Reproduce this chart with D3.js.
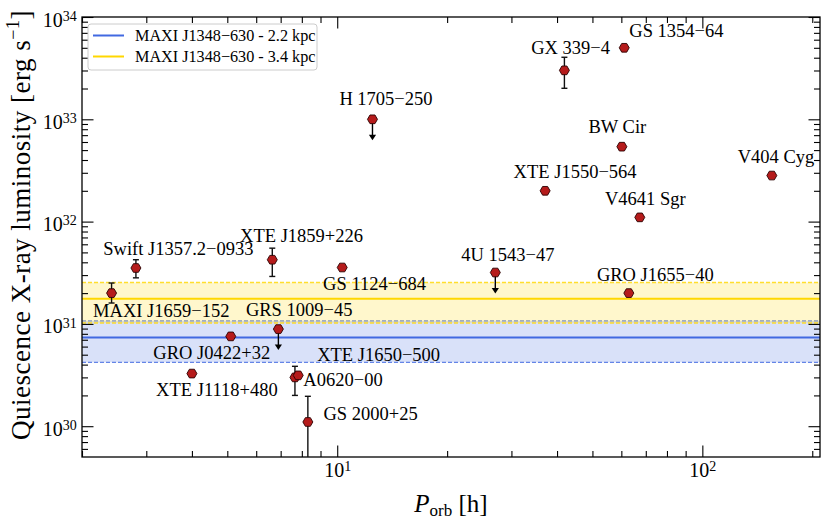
<!DOCTYPE html>
<html>
<head>
<meta charset="utf-8">
<script src="https://cdn.jsdelivr.net/npm/d3@7"></script>
<style>
    body { margin: 0; background: #ffffff; }
    svg { font-family: "Liberation Serif", "DejaVu Serif", serif; }
</style>
</head>
<body>
<div id="chart"></div>
<script>
// quiescent black hole X-ray binaries
const names = [
    'Swift J1357.2\u22120933', 'MAXI J1659\u2212152', 'XTE J1859+226', 'GS 1124\u2212684',
    'GRS 1009\u221245', 'GRO J0422+32', 'XTE J1118+480', 'XTE J1650\u2212500',
    'A0620\u221200', 'GS 2000+25', 'H 1705\u2212250', '4U 1543\u221247',
    'GRO J1655\u221240', 'XTE J1550\u2212564', 'V4641 Sgr', 'BW Cir',
    'V404 Cyg', 'GX 339\u22124', 'GS 1354\u221264'
];
const period = [2.81, 2.41, 6.64, 10.32, 6.90, 5.11, 4.00, 7.66, 7.82, 8.31,
    12.49, 27.1, 62.9, 37.1, 67.4, 60.2, 155, 41.9, 61.1];
const lum = [3.52e31, 2.0e31, 4.24e31, 3.56e31, 8.9e30, 7.55e30, 3.27e30, 3.0e30, 3.14e30, 1.1e30,
    1.0e33, 3.18e31, 2.0e31, 2.0e32, 1.1e32, 5.4e32, 2.82e32, 3.01e33, 5.0e33];
const lumLow = [2.82e31, 1.6e31, 2.91e31, null, null, null, null, 2.0e30, null, 2e29,
    null, null, null, null, null, null, null, 2.01e33, null];
const lumHigh = [4.24e31, 2.51e31, 5.5e31, null, null, null, null, 3.85e30, null, 1.96e30,
    null, null, null, null, null, null, null, 4.04e33, null];
const upperLimit = [false, false, false, false, true, false, false, false, false, false,
    true, true, false, false, false, false, false, false, false];

// MAXI J1348-630 quiescent luminosity for two distances
const bandNames = ['MAXI J1348\u2212630 - 2.2 kpc', 'MAXI J1348\u2212630 - 3.4 kpc'];
const bandMid = [7.38e30, 1.76e31];
const bandLow = [4.21e30, 1.02e31];
const bandHigh = [1.07e31, 2.54e31];
const bandColors = ['royalblue', 'gold'];

const xTicks = [10, 100];
const yTicks = [1e30, 1e31, 1e32, 1e33, 1e34];

// label placement, pixel offset of label centre/baseline from its point
const labelDx = [42.5, 49.7, 29.3, 32.3, 20.8, -19, 25, 83.7, 44.8, 62.7,
    13.5, 12.5, 26.5, 30, 5.5, -4.5, 4.2, 6.2, 52.2];
const labelDy = [-13.3, 23.4, -18, 22.3, -12.6, 22.3, 22, -16, 11, -1.6,
    -14, -11.7, -12.6, -13, -12.3, -13.7, -12.7, -16.3, -10.7];

const fmt = {
    width: 830,
    height: 521,
    margins: { left: 82, right: 10, top: 17, bottom: 64 },
    xrange: [2, 210],
    yrange: [5e29, 1e34],
    majorTick: 11.5,
    minorTick: 6,
    limitDex: 0.205
};

function minorTicks(lo, hi) {
    let out = [];
    for (let e = Math.floor(Math.log10(lo)); e <= Math.ceil(Math.log10(hi)); e++) {
        for (let m = 2; m <= 9; m++) {
            let v = m * Math.pow(10, e);
            if (v >= lo && v <= hi) out.push(v);
        }
    }
    return out;
}

function hexagon(r) {
    let pts = d3.range(6).map((k) => {
        let a = k * Math.PI / 3;
        return [r * Math.cos(a), r * Math.sin(a)];
    });
    return 'M' + pts.map((p) => p.join(',')).join('L') + 'Z';
}

function powerLabel(sel) {
    sel.each(function(d) {
        let t = d3.select(this).text('10');
        t.append('tspan')
            .attr('dy', '-0.42em')
            .attr('font-size', '14px')
            .text(Math.round(Math.log10(d)));
    });
}

function qlum_plot(container, fmt) {
    const width = fmt.width - fmt.margins.left - fmt.margins.right;
    const height = fmt.height - fmt.margins.top - fmt.margins.bottom;

    const x = d3.scaleLog().domain(fmt.xrange).range([0, width]);
    const y = d3.scaleLog().domain(fmt.yrange).range([height, 0]);

    let svg = d3.select(container).append('svg')
        .attr('version', 1.1)
        .attr('xmlns', 'http://www.w3.org/2000/svg')
        .attr('width', fmt.width)
        .attr('height', fmt.height);

    svg.append('defs').append('clipPath')
        .attr('id', 'plot-clip')
        .append('rect')
        .attr('width', width)
        .attr('height', height);

    let g = svg.append('g')
        .attr('transform', 'translate(' + fmt.margins.left + ',' + fmt.margins.top + ')');

    // shaded bands
    let bands = g.append('g').attr('clip-path', 'url(#plot-clip)');
    bandNames.forEach((_, i) => {
        bands.append('rect')
            .attr('x', 0)
            .attr('width', width)
            .attr('y', y(bandHigh[i]))
            .attr('height', y(bandLow[i]) - y(bandHigh[i]))
            .attr('fill', bandColors[i])
            .attr('fill-opacity', 0.2);
        [bandLow[i], bandHigh[i]].forEach((v) => {
            bands.append('line')
                .attr('x1', 0).attr('x2', width)
                .attr('y1', y(v)).attr('y2', y(v))
                .attr('stroke', bandColors[i])
                .attr('stroke-opacity', 0.8)
                .attr('stroke-width', 1.3)
                .attr('stroke-dasharray', '4,2');
        });
        bands.append('line')
            .attr('x1', 0).attr('x2', width)
            .attr('y1', y(bandMid[i])).attr('y2', y(bandMid[i]))
            .attr('stroke', bandColors[i])
            .attr('stroke-width', 2);
    });

    // axes, ticks pointing inwards on all four sides
    let minorX = minorTicks(fmt.xrange[0], fmt.xrange[1]).filter((v) => xTicks.indexOf(v) < 0);
    let minorY = minorTicks(fmt.yrange[0], fmt.yrange[1]).filter((v) => !yTicks.some((t) => Math.abs(t - v) / v < 1e-6));

    let bottom = g.append('g')
        .attr('transform', 'translate(0,' + height + ')')
        .call(d3.axisBottom(x).tickValues(xTicks).tickSize(-fmt.majorTick).tickPadding(5.5));
    bottom.selectAll('.tick text').call(powerLabel);
    g.append('g')
        .attr('transform', 'translate(0,' + height + ')')
        .call(d3.axisBottom(x).tickValues(minorX).tickSize(-fmt.minorTick).tickFormat(''));
    g.append('g')
        .call(d3.axisTop(x).tickValues(xTicks).tickSize(-fmt.majorTick).tickFormat(''));
    g.append('g')
        .call(d3.axisTop(x).tickValues(minorX).tickSize(-fmt.minorTick).tickFormat(''));

    let left = g.append('g')
        .call(d3.axisLeft(y).tickValues(yTicks).tickSize(-fmt.majorTick).tickPadding(5.3));
    left.selectAll('.tick text').attr('dy', '0.45em').call(powerLabel);
    g.append('g')
        .call(d3.axisLeft(y).tickValues(minorY).tickSize(-fmt.minorTick).tickFormat(''));
    g.append('g')
        .attr('transform', 'translate(' + width + ',0)')
        .call(d3.axisRight(y).tickValues(yTicks).tickSize(-fmt.majorTick).tickFormat(''));
    g.append('g')
        .attr('transform', 'translate(' + width + ',0)')
        .call(d3.axisRight(y).tickValues(minorY).tickSize(-fmt.minorTick).tickFormat(''));

    g.selectAll('.domain').remove();
    g.selectAll('.tick line').attr('stroke', '#000').attr('stroke-width', 1.1);
    g.selectAll('.tick text')
        .attr('fill', '#000')
        .attr('font-family', '"Liberation Serif", serif')
        .attr('font-size', '20px');

    g.append('rect')
        .attr('width', width)
        .attr('height', height)
        .attr('fill', 'none')
        .attr('stroke', '#000')
        .attr('stroke-width', 1.3);

    // source names
    g.append('g').selectAll('text')
        .data(names)
        .enter().append('text')
        .attr('x', (_, i) => x(period[i]) + labelDx[i])
        .attr('y', (_, i) => y(lum[i]) + labelDy[i])
        .attr('text-anchor', 'middle')
        .attr('font-size', '18.5px')
        .attr('fill', '#000')
        .text((d) => d);

    // error bars and upper limits
    let errs = g.append('g').attr('clip-path', 'url(#plot-clip)');
    names.forEach((_, i) => {
        let px = x(period[i]);
        if (lumLow[i] !== null) {
            errs.append('line')
                .attr('x1', px).attr('x2', px)
                .attr('y1', y(lumHigh[i])).attr('y2', y(lumLow[i]))
                .attr('stroke', '#111').attr('stroke-width', 1.4);
            [lumLow[i], lumHigh[i]].forEach((v) => {
                errs.append('line')
                    .attr('x1', px - 3).attr('x2', px + 3)
                    .attr('y1', y(v)).attr('y2', y(v))
                    .attr('stroke', '#111').attr('stroke-width', 1.4);
            });
        }
        if (upperLimit[i]) {
            let tip = y(lum[i] / Math.pow(10, fmt.limitDex));
            errs.append('line')
                .attr('x1', px).attr('x2', px)
                .attr('y1', y(lum[i])).attr('y2', tip - 3)
                .attr('stroke', '#000').attr('stroke-width', 1.4);
            errs.append('path')
                .attr('d', 'M' + (px - 3.6) + ',' + (tip - 5.6) + 'L' + (px + 3.6) + ',' + (tip - 5.6) + 'L' + px + ',' + tip + 'Z')
                .attr('fill', '#000');
        }
    });

    // points
    g.append('g').selectAll('path')
        .data(names)
        .enter().append('path')
        .attr('d', hexagon(5))
        .attr('transform', (_, i) => 'translate(' + x(period[i]) + ',' + y(lum[i]) + ')')
        .attr('fill', '#b51b1b')
        .attr('stroke', '#2a0000')
        .attr('stroke-width', 0.9);

    // legend
    let leg = g.append('g').attr('transform', 'translate(6,7)');
    leg.append('rect')
        .attr('width', 229)
        .attr('height', 46)
        .attr('rx', 3)
        .attr('fill', '#fff')
        .attr('fill-opacity', 0.8)
        .attr('stroke', '#cccccc')
        .attr('stroke-width', 1);
    bandNames.forEach((n, i) => {
        leg.append('line')
            .attr('x1', 5).attr('x2', 36)
            .attr('y1', 11.5 + 21 * i).attr('y2', 11.5 + 21 * i)
            .attr('stroke', bandColors[i])
            .attr('stroke-width', 2);
        leg.append('text')
            .attr('x', 47)
            .attr('y', 11.5 + 21 * i)
            .attr('dy', '0.33em')
            .attr('font-size', '16.2px')
            .text(n);
    });

    // axis titles
    let xt = svg.append('text')
        .attr('x', fmt.margins.left + width / 2)
        .attr('y', 511.7)
        .attr('text-anchor', 'middle')
        .attr('font-size', '25px');
    xt.append('tspan').attr('font-style', 'italic').text('P');
    xt.append('tspan').attr('font-size', '17px').attr('dy', 4).text('orb');
    xt.append('tspan').attr('dy', -4).text(' [h]');

    let yt = svg.append('text')
        .attr('transform', 'translate(30,225) rotate(-90)')
        .attr('text-anchor', 'middle')
        .attr('font-size', '27px')
        .attr('letter-spacing', '0.5px');
    yt.append('tspan').text('Quiescence X-ray luminosity [erg s');
    yt.append('tspan').attr('font-size', '18px').attr('dy', -11).text('\u22121');
    yt.append('tspan').attr('dy', 11).text(']');
}

qlum_plot('#chart', fmt);
</script>
</body>
</html>
